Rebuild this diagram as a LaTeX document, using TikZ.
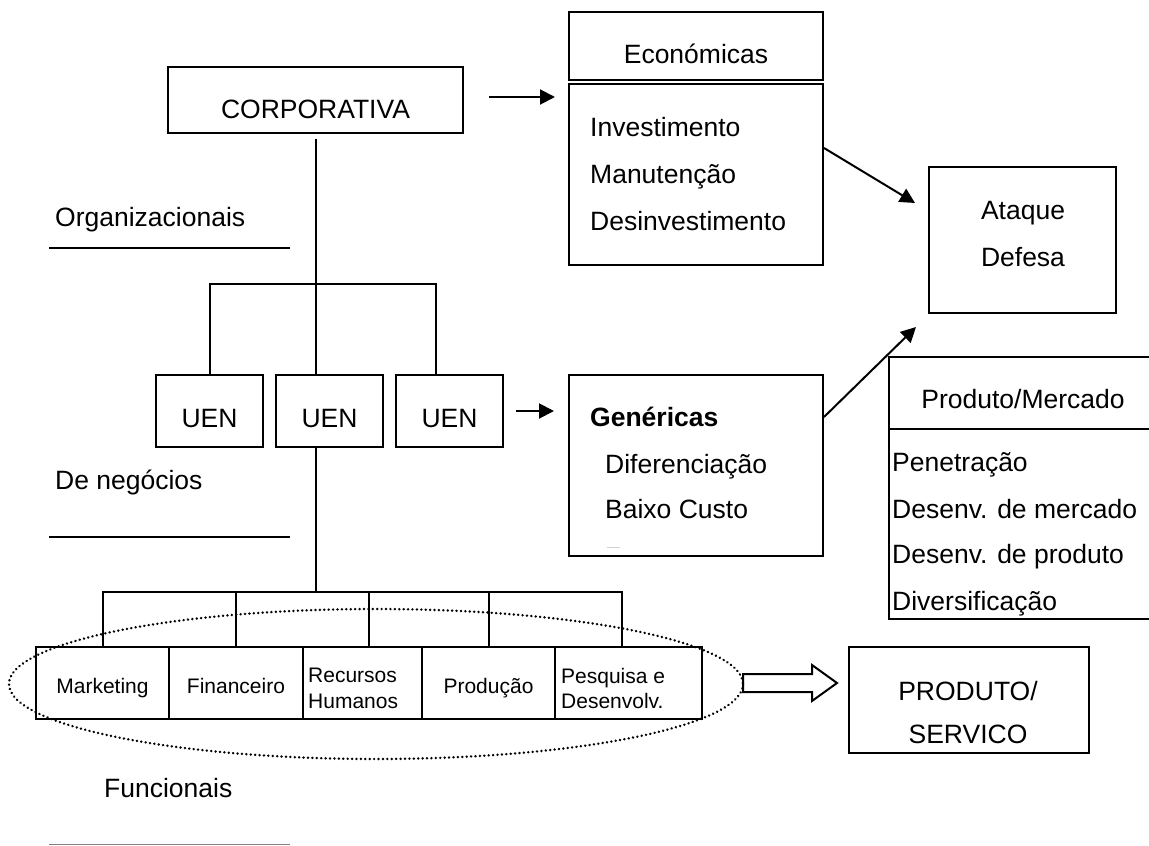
\documentclass[tikz,border=0pt]{standalone}
\usepackage{fontspec}
\setmainfont{Liberation Sans}
\usetikzlibrary{arrows.meta}
\newcommand\mainsize{\fontsize{26.5}{32}\selectfont}
\newcommand\cellsize{\fontsize{21}{26}\selectfont}
\begin{document}
\begin{tikzpicture}[x=1pt,y=-1pt,
  box/.style={draw, line width=2pt, inner sep=0pt, rectangle},
  lbl/.style={inner sep=0pt, font=\mainsize},
  cell/.style={inner sep=0pt, font=\cellsize},
  conn/.style={line width=2pt},
  arr/.style={line width=2pt, -{Triangle[length=15pt,width=15pt]}},
  dotline/.style={line width=2.7pt, line cap=round, dash pattern=on 0.01pt off 4.4pt}]
\useasboundingbox (0,0) rectangle (1149,846);

% ---- level labels with their rules
\node[lbl, anchor=base west] (orgT) at (55,226) {Organizacionais};
\node[lbl, anchor=base west] (negT) at (55,489) {De negócios};
\node[lbl, anchor=base west] (funT) at (104,797) {Funcionais};
\draw[conn] (49,248) -- (290,248);
\draw[conn] (49,537) -- (290,537);
\draw[line width=1.5pt, gray] (49,844.5) -- (290,844.5);

% ---- corporate level
\node[box, minimum width=295pt, minimum height=66pt] (corp) at (315.5,100) {};
\node[lbl, anchor=base] (corpT) at (315.5,118) {CORPORATIVA};

% ---- business units
\node[box, minimum width=107pt, minimum height=72pt] (uen1) at (209.5,411) {};
\node[box, minimum width=107pt, minimum height=72pt] (uen2) at (329.5,411) {};
\node[box, minimum width=107pt, minimum height=72pt] (uen3) at (449.5,411) {};
\node[lbl, anchor=base] (uen1T) at (209.5,427) {UEN};
\node[lbl, anchor=base] (uen2T) at (329.5,427) {UEN};
\node[lbl, anchor=base] (uen3T) at (449.5,427) {UEN};

\coordinate (brR) at (436,284);
\draw[conn] ([yshift=-5pt]corp.south) -- (corp.south |- uen2.north);
\draw[conn] (uen1.north) |- (brR) -- (brR |- uen3.north);

% ---- functional level: connecting row and function cells
\node[box, minimum width=133pt, minimum height=55pt] (top1) at (169.5,619.5) {};
\node[box, minimum width=133pt, minimum height=55pt] (top2) at (302.5,619.5) {};
\node[box, minimum width=120pt, minimum height=55pt] (top3) at (429,619.5) {};
\node[box, minimum width=133pt, minimum height=55pt] (top4) at (555.5,619.5) {};
\draw[conn] (corp.south |- uen2.south) -- (corp.south |- top2.north);

\node[box, minimum width=133pt, minimum height=72pt] (mkt) at (102.5,683) {};
\node[box, minimum width=134pt, minimum height=72pt] (fin) at (236,683) {};
\node[box, minimum width=119pt, minimum height=72pt] (rh) at (362.5,683) {};
\node[box, minimum width=133pt, minimum height=72pt] (prd) at (488.5,683) {};
\node[box, minimum width=147pt, minimum height=72pt] (ped) at (628.5,683) {};
\node[cell, anchor=base] (mktT) at (102.5,693) {Marketing};
\node[cell, anchor=base] (finT) at (236,693) {Financeiro};
\node[cell, anchor=base west] (rhT1) at (308,682) {Recursos};
\node[cell, anchor=base west] (rhT2) at (308,708) {Humanos};
\node[cell, anchor=base] (prdT) at (488.5,693) {Produção};
\node[cell, anchor=base west] (pedT1) at (561,683) {Pesquisa e};
\node[cell, anchor=base west] (pedT2) at (561,708) {Desenvolv.};

\draw[dotline] (376,684) ellipse [x radius=367, y radius=75];

% ---- hollow arrow towards the product
\coordinate (ha) at (743,683);
\draw[line width=2pt, line join=miter]
  (ha) ++(0,-9) -- ++(69,0) -- ++(0,-9) -- ++(25,18) -- ++(-25,18) -- ++(0,-9) -- ++(-69,0) -- cycle;

\node[box, minimum width=240pt, minimum height=106pt] (prod) at (969,700) {};
\node[lbl, anchor=base] (prodT1) at (968,700) {PRODUTO/};
\node[lbl, anchor=base] (prodT2) at (968,743) {SERVICO};

% ---- economic strategies
\node[box, minimum width=254pt, minimum height=68pt] (econH) at (696,46) {};
\node[box, minimum width=254pt, minimum height=181pt] (econB) at (696,174.5) {};
\node[lbl, anchor=base] (econT) at (696,63) {Económicas};
\node[lbl, anchor=base west] (invT) at (590,136) {Investimento};
\node[lbl, anchor=base west] (manT) at (590,183) {Manutenção};
\node[lbl, anchor=base west] (desT) at (590,230) {Desinvestimento};

% ---- attack / defence
\node[box, minimum width=187pt, minimum height=146pt] (atq) at (1022.5,240) {};
\node[lbl, anchor=base] (atqT1) at (1023,219) {Ataque};
\node[lbl, anchor=base] (atqT2) at (1023,266) {Defesa};

% ---- generic strategies
\node[box, minimum width=254pt, minimum height=181pt] (gen) at (696,465.5) {};
\node[lbl, anchor=base west, font=\mainsize\bfseries] (genT) at (590,426) {Genéricas};
\node[lbl, anchor=base west] (difT) at (605,473) {Diferenciação};
\node[lbl, anchor=base west] (bxT) at (605,518) {Baixo Custo};
\draw[line width=1pt, gray!35] (607,547) -- (620,547);

% ---- product / market strategies (open towards the right margin)
\draw[conn] (1149,357) -- (889,357) -- (889,619) -- (1149,619);
\draw[conn] (889,429) -- (1149,429);
\node[lbl, anchor=base] (pmT) at (1023,408) {Produto/Mercado};
\node[lbl, anchor=base west] (pm1) at (892,471) {Penetração};
\node[lbl, anchor=base west] (pm2) at (892,518) {Desenv. de mercado};
\node[lbl, anchor=base west] (pm3) at (892,563) {Desenv. de produto};
\node[lbl, anchor=base west] (pm4) at (892,610) {Diversificação};

% ---- arrows
\coordinate (tipE) at (555,97);
\coordinate (tipA) at (915,203);
\coordinate (tipB) at (916,327);
\draw[arr] ([xshift=25pt,yshift=3pt]corp.east) -- (tipE);
\draw[arr] ([yshift=26.5pt]econB.east) -- (tipA);
\draw[arr] ([xshift=12pt]uen3.east) -- ([xshift=-14pt]gen.west |- uen3.east);
\draw[arr] ([yshift=48.5pt]gen.east) -- (tipB);
\end{tikzpicture}
\end{document}
